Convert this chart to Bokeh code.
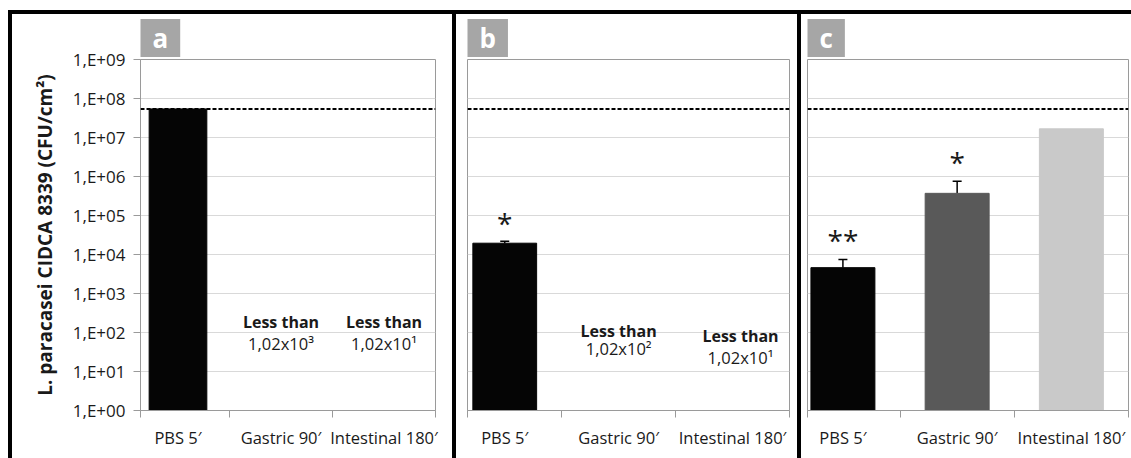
from bokeh.plotting import figure
from bokeh.layouts import row, column
from bokeh.models import Range1d, FixedTicker, Span, Whisker, TeeHead, ColumnDataSource, Div
from bokeh.core.properties import value
from bokeh.embed import file_html
from bokeh.resources import INLINE

# ---------------- data ----------------
categories = ["PBS 5′", "Gastric 90′", "Intestinal 180′"]
initial_count = 5.4e7          # dashed line (CFU/cm2 before treatment)

a_values = [5.4e7]             # only PBS detectable
b_values = [1.95e4]
b_err_upper = [2.2e4]
c_values = [4.6e3, 3.7e5, 1.67e7]
c_err_upper = [7.4e3, 7.6e5]

a_limit_text = ["1,02x10³", "1,02x10¹"]   # gastric, intestinal
b_limit_text = ["1,02x10²", "1,02x10¹"]
b_signif = ["*"]
c_signif = ["**", "*"]

bar_colors = ["#050505", "#595959", "#c9c9c9"]
y_ticks = [10 ** k for k in range(10)]
y_tick_labels = ["1,E+%02d" % k for k in range(10)]

FONT = "Open Sans"
GRAY = "#9a9a9a"
TXT = "#1a1a1a"
FIG_H = 444


def make_panel(letter, width, b_left, b_right, x_start, show_y):
    p = figure(width=width, height=FIG_H, x_range=Range1d(x_start, 2.5),
               y_range=Range1d(1, 1e9), y_axis_type="log",
               output_backend="svg", toolbar_location=None,
               min_border_left=b_left, min_border_right=b_right,
               min_border_top=45, min_border_bottom=FIG_H - 45 - 351, title=letter)
    p.outline_line_color = GRAY
    p.background_fill_color = "white"
    p.border_fill_color = "white"
    p.xgrid.visible = False
    yt = FixedTicker(ticks=y_ticks)
    p.yaxis.ticker = yt
    p.ygrid.ticker = yt
    p.ygrid.grid_line_color = "#d9d9d9"
    p.ygrid.grid_line_width = 1

    # title box
    t = p.title
    t.text_color = "white"
    t.text_font = FONT
    t.text_font_size = "26px"
    t.text_font_style = "bold"
    t.background_fill_color = "#a6a6a6"
    t.align = "left"
    t.standoff = 5
    t.padding = {"left": 12, "right": 12, "top": 1, "bottom": 1}

    xa = p.xaxis[0]
    xa.ticker = FixedTicker(ticks=[0, 1, 2], minor_ticks=[x_start, 0.5, 1.5, 2.5])
    xa.major_label_overrides = {i: c for i, c in enumerate(categories)}
    xa.major_tick_line_color = None
    xa.major_tick_out = 7
    xa.minor_tick_line_color = GRAY
    xa.minor_tick_out = 7
    xa.minor_tick_in = 0
    xa.axis_line_color = GRAY
    xa.major_label_text_font = FONT
    xa.major_label_text_font_size = "16.5px"
    xa.major_label_text_color = TXT
    xa.major_label_standoff = 8

    ya = p.yaxis[0]
    if show_y:
        ya.major_label_overrides = dict(zip(y_ticks, y_tick_labels))
        ya.major_tick_line_color = GRAY
        ya.major_tick_out = 7
        ya.major_tick_in = 0
        ya.minor_tick_line_color = None
        ya.axis_line_color = GRAY
        ya.major_label_text_font = FONT
        ya.major_label_text_font_size = "17px"
        ya.major_label_text_color = TXT
        ya.major_label_standoff = 8
        ya.axis_label = "L. paracasei CIDCA 8339 (CFU/cm²)"
        ya.axis_label_text_font = FONT
        ya.axis_label_text_font_size = "19px"
        ya.axis_label_text_font_style = "bold"
        ya.axis_label_text_color = TXT
        ya.axis_label_standoff = 12
    else:
        ya.visible = False

    p.add_layout(Span(location=initial_count, dimension="width", line_color="black",
                      line_dash="4 2", line_width=2))
    return p


def add_text(p, xs, ys, texts, bold, size="16.5px"):
    p.text(x=xs, y=ys, text=texts, text_font=value(FONT), text_font_size=size,
           text_font_style="bold" if bold else "normal", text_color=TXT,
           text_align="center", text_baseline="middle")


def add_err(p, xs, lows, ups):
    src = ColumnDataSource(dict(x=xs, lo=lows, up=ups))
    p.add_layout(Whisker(source=src, base="x", lower="lo", upper="up", dimension="height",
                         line_color="black", line_width=1.5, lower_head=None,
                         upper_head=TeeHead(size=9, line_color="black", line_width=1.5)))


# ---------------- panel a ----------------
pa = make_panel("a", 440, 128, 17, -0.364, True)
pa.vbar(x=[0], top=a_values, bottom=1, width=0.56, color=bar_colors[0])
add_text(pa, [1, 2], [10 ** 2.28] * 2, ["Less than"] * 2, True, "16px")
add_text(pa, [1, 2], [10 ** 1.72] * 2, a_limit_text, False)

# ---------------- panel b ----------------
pb = make_panel("b", 341, 11, 8, -0.327, False)
pb.vbar(x=[0], top=b_values, bottom=1, width=0.56, color=bar_colors[0])
add_err(pb, [0], b_values, b_err_upper)
add_text(pb, [0], [10 ** 4.8], b_signif, False, "28px")
add_text(pb, [1, 2.07], [10 ** 2.05, 10 ** 1.92], ["Less than"] * 2, True, "16px")
add_text(pb, [1, 2.07], [10 ** 1.59, 10 ** 1.36], b_limit_text, False)

# ---------------- panel c ----------------
pc = make_panel("c", 330, 6, 3, -0.31, False)
pc.vbar(x=[0, 1, 2], top=c_values, bottom=1, width=0.56, color=bar_colors)
add_err(pc, [0, 1], c_values[:2], c_err_upper)
add_text(pc, [0, 1], [10 ** 4.36, 10 ** 6.36], c_signif, False, "28px")

# ---------------- frame ----------------
def bar_div(w, h):
    return Div(text="", width=w, height=h, margin=(0, 0, 0, 0),
               styles={"background-color": "black"})

body = row(bar_div(4, FIG_H), pa, bar_div(4, FIG_H), pb, bar_div(4, FIG_H), pc, spacing=0)
layout = column(bar_div(1123, 4), body, spacing=0, margin=(10, 0, 0, 8))

open("out.html", "w").write(file_html(layout, INLINE))
